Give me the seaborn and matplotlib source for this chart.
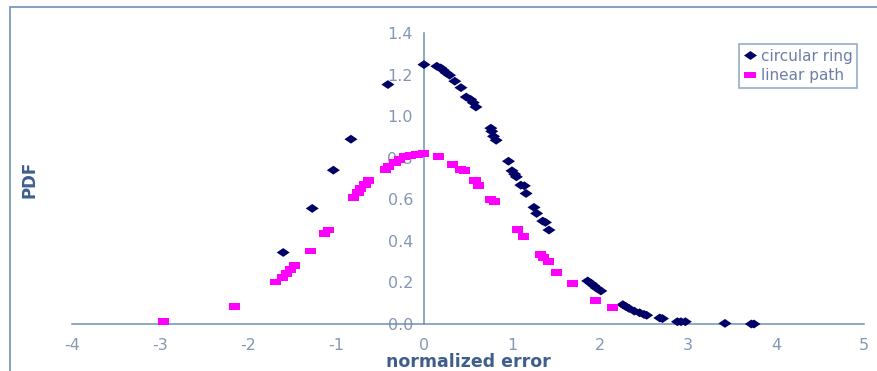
import numpy as np
import pandas as pd
import matplotlib
matplotlib.use("Agg")
import matplotlib.pyplot as plt
import seaborn as sns
from matplotlib.patches import Rectangle
from matplotlib.ticker import FormatStrFormatter

# ---- data ----
ring_x = [-1.60, -1.27, -1.03, -0.83, -0.41, 0.00, 0.146, 0.19, 0.22, 0.25, 0.29, 0.35,
          0.42, 0.48, 0.53, 0.56, 0.59, 0.76, 0.77, 0.79, 0.82, 0.96, 1.00, 1.03, 1.05,
          1.10, 1.14, 1.16, 1.25, 1.28, 1.35, 1.38, 1.42, 1.86, 1.90, 1.93, 1.96, 2.01,
          2.26, 2.29, 2.33, 2.39, 2.45, 2.50, 2.53, 2.68, 2.71, 2.88, 2.92, 2.97, 3.42,
          3.72, 3.75]
ring_y = [0.344, 0.556, 0.740, 0.889, 1.152, 1.248, 1.240, 1.232, 1.221, 1.209, 1.197,
          1.168, 1.137, 1.092, 1.080, 1.065, 1.044, 0.942, 0.927, 0.903, 0.884, 0.783,
          0.737, 0.721, 0.708, 0.668, 0.665, 0.628, 0.561, 0.532, 0.495, 0.489, 0.452,
          0.207, 0.195, 0.184, 0.173, 0.159, 0.093, 0.085, 0.075, 0.062, 0.054, 0.046,
          0.042, 0.029, 0.026, 0.011, 0.011, 0.011, 0.003, 0.0, 0.0]

lin_x = [-2.96, -2.15, -1.69, -1.61, -1.56, -1.52, -1.47, -1.29, -1.13, -1.09, -0.80,
         -0.75, -0.72, -0.67, -0.63, -0.44, -0.40, -0.33, -0.28, -0.22, -0.15, -0.08,
         -0.01, 0.16, 0.32, 0.41, 0.46, 0.58, 0.62, 0.76, 0.80, 1.06, 1.13, 1.32, 1.36,
         1.41, 1.51, 1.69, 1.95, 2.14]
lin_y = [0.011, 0.083, 0.202, 0.224, 0.243, 0.263, 0.280, 0.351, 0.436, 0.452, 0.607,
         0.631, 0.652, 0.673, 0.689, 0.743, 0.759, 0.778, 0.791, 0.804, 0.812, 0.815,
         0.820, 0.807, 0.769, 0.745, 0.737, 0.690, 0.668, 0.599, 0.591, 0.455, 0.420,
         0.335, 0.319, 0.301, 0.248, 0.195, 0.115, 0.078]

x_ticks = [-4, -3, -2, -1, 0, 1, 2, 3, 4, 5]
y_ticks = [0.0, 0.2, 0.4, 0.6, 0.8, 1.0, 1.2, 1.4]
series_names = ["circular ring", "linear path"]

df = pd.concat([
    pd.DataFrame({"x": ring_x, "y": ring_y, "series": series_names[0]}),
    pd.DataFrame({"x": lin_x, "y": lin_y, "series": series_names[1]}),
], ignore_index=True)

sns.set_style("white")
plt.rcParams['font.family'] = ['DejaVu Sans']
plt.rcParams['axes.unicode_minus'] = False

spine_c = "#6f8fb3"
tick_c = "#8497b4"
label_c = "#3e5e8c"

# wide (horizontally stretched) diamond and rectangle markers as in the reference
diamond = [(-1, 0), (0, 0.68), (1, 0), (0, -0.68), (-1, 0)]
rect = [(-1, -0.62), (1, -0.62), (1, 0.62), (-1, 0.62), (-1, -0.62)]

fig = plt.figure(figsize=(8.77, 3.71), dpi=100)
ax = fig.add_axes([72/877, 1-324/371, (864-72)/877, (324-33)/371])

sns.scatterplot(data=df, x="x", y="y", hue="series", style="series", size="series",
                markers={series_names[0]: diamond, series_names[1]: rect},
                palette={series_names[0]: "#000066", series_names[1]: "#ff00ff"},
                sizes={series_names[0]: 88, series_names[1]: 64},
                linewidth=0, ax=ax, clip_on=False, zorder=3)

ax.set_xlim(-4, 5)
ax.set_ylim(0, 1.4)
ax.set_xticks(x_ticks)
ax.set_yticks(y_ticks)
ax.yaxis.set_major_formatter(FormatStrFormatter('%.1f'))

for s in ["top", "right"]:
    ax.spines[s].set_visible(False)
ax.spines["left"].set_position(("data", 0))
for s in ["left", "bottom"]:
    ax.spines[s].set_color(spine_c)
    ax.spines[s].set_linewidth(1.1)
ax.tick_params(axis="both", direction="out", length=5, width=1.1, color=spine_c,
               labelcolor=tick_c, labelsize=11.5, pad=3)
ax.tick_params(axis="x", pad=5)

ax.set_xlabel("normalized error", fontsize=12.5, fontweight="bold", color=label_c, labelpad=0)
ax.set_ylabel("", fontsize=1)
fig.text(30/877, 1-179/371, "PDF", rotation=90, fontsize=12, fontweight="bold",
         color=label_c, ha="center", va="center")

leg = ax.legend(loc="upper right", bbox_to_anchor=(857/877, 1-44/371),
                bbox_transform=fig.transFigure, frameon=True, fancybox=False,
                fontsize=11, handletextpad=0.25, borderpad=0.3, handlelength=0.9,
                labelspacing=0.3, borderaxespad=0)
leg.get_frame().set_edgecolor(spine_c)
leg.get_frame().set_linewidth(1.1)
for t in leg.get_texts():
    t.set_color("#6d7fa8")

fig.patches.append(Rectangle((10/877, -0.5), 2.0, 0.5 + 1 - 7/371,
                             transform=fig.transFigure, fill=False,
                             edgecolor=spine_c, linewidth=1.2, clip_on=False))

fig.savefig("out.png", dpi=100)
